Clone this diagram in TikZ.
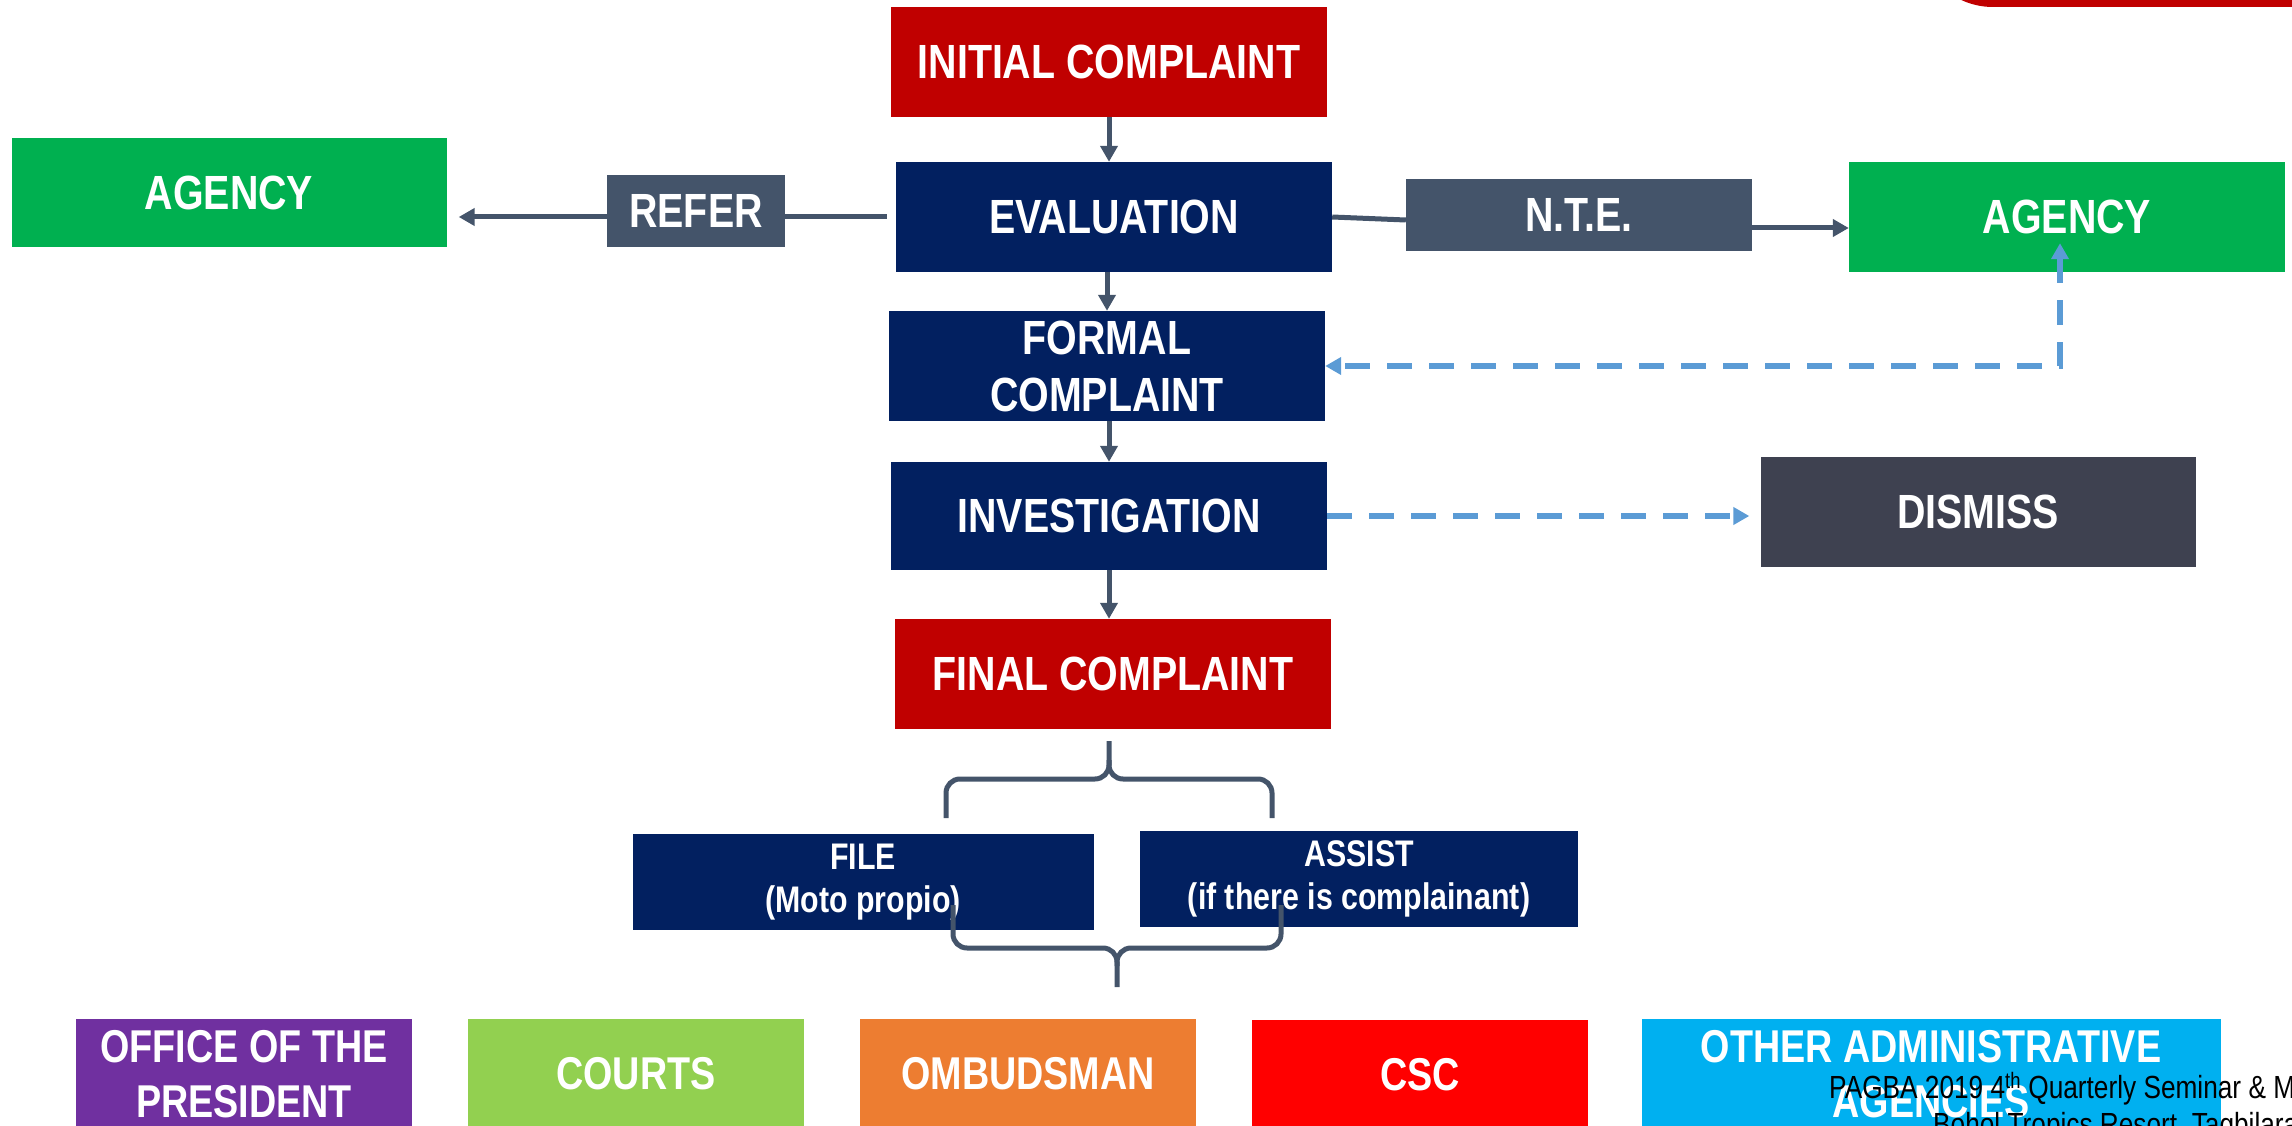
\documentclass[tikz,border=0pt]{standalone}
\usepackage{fontspec}
\setmainfont{Liberation Sans}[FakeStretch=0.82]
\usepackage{tikz}
\usetikzlibrary{arrows.meta}
\definecolor{cred}{HTML}{C00000}
\definecolor{cnavy}{HTML}{022060}
\definecolor{cgreen}{HTML}{00B050}
\definecolor{cslate}{HTML}{44546A}
\definecolor{cdark}{HTML}{3E4150}
\definecolor{cblue}{HTML}{5B9BD5}
\definecolor{cpurple}{HTML}{7030A0}
\definecolor{clime}{HTML}{92D050}
\definecolor{corange}{HTML}{ED7D31}
\definecolor{cscarlet}{HTML}{FF0000}
\definecolor{ccyan}{HTML}{00B0F0}

\begin{document}
\begin{tikzpicture}[x=1pt, y=-1pt,
  >={Triangle[width=17pt, length=16pt]},
  box/.style={inner sep=0pt, text=white, align=center,
    font=\bfseries\fontsize{48}{57}\selectfont,
    minimum width=436pt, minimum height=110pt},
  tag/.style={box, fill=cslate, minimum height=72pt},
  small/.style={box, fill=cnavy, font=\bfseries\fontsize{37}{43}\selectfont,
    minimum height=96pt},
  office/.style={box, font=\bfseries\fontsize{46}{55}\selectfont,
    minimum width=336pt},
  flow/.style={cslate, line width=5pt, ->},
  link/.style={cslate, line width=5pt},
  dflow/.style={cblue, line width=6pt, dash pattern=on 25pt off 17pt},
  brace/.style={cslate, line width=5pt, rounded corners=14pt}]
  \useasboundingbox (0,0) rectangle (2292,1126);
  \clip (0,0) rectangle (2292,1126);

  % corner tab at the top
  \fill [cred, rounded corners=75pt] (1918,-200) rectangle (2400,7);

  % main column
  \node [box, fill=cred] (init) at (1109,62) {INITIAL COMPLAINT};
  \node [box, fill=cnavy] (eval) at (1114,217) {EVALUATION};
  \node [box, fill=cnavy] (formal) at (1107,366) {FORMAL\\COMPLAINT};
  \node [box, fill=cnavy, minimum height=108pt] (invest) at (1109,516) {INVESTIGATION};
  \node [box, fill=cred] (final) at (1113,674) {FINAL COMPLAINT};

  % side branches
  \node [tag, minimum width=178pt] (refer) at (696,211) {REFER};
  \node [box, fill=cgreen, minimum width=435pt, minimum height=109pt] (agencyL) at (229,193) {AGENCY};
  \node [tag, minimum width=346pt] (nte) at (1579,215) {N.T.E.};
  \node [box, fill=cgreen] (agencyR) at (2067,217) {AGENCY};
  \node [box, fill=cdark, minimum width=435pt] (dismiss) at (1978,512) {DISMISS};

  % options after the final complaint
  \node [small, minimum width=461pt] (file) at (863,882) {FILE\\(Moto propio)};
  \node [small, minimum width=438pt] (assist) at (1359,879) {ASSIST\\(if there is complainant)};

  % where it can go
  \node [office, fill=cpurple] (president) at (244,1074) {OFFICE OF THE\\PRESIDENT};
  \node [office, fill=clime] (courts) at (636,1074) {COURTS};
  \node [office, fill=corange] (ombudsman) at (1028,1074) {OMBUDSMAN};
  \node [office, fill=cscarlet] (csc) at (1420,1075) {CSC};
  \node [office, fill=ccyan, minimum width=579pt] (others) at (1931,1074) {OTHER ADMINISTRATIVE\\AGENCIES};

  % arrows
  \draw [flow] (init.south) -- (init.south |- eval.north);
  \draw [flow] (formal.north |- eval.south) -- (formal.north);
  \draw [flow] (invest.north |- formal.south) -- (invest.north);
  \draw [flow] (invest.south) -- (invest.south |- final.north);

  \draw [link, shorten <=9pt] (eval.west) -- (eval.west -| refer.east);
  \draw [flow, shorten >=12pt] (eval.west -| refer.west) -- (eval.west -| agencyL.east);

  \draw [link] (eval.east) -- ([yshift=-5pt]nte.west);
  \draw [flow] ([yshift=-13pt]nte.east) -- ([yshift=-11pt]agencyR.west);

  \draw [dflow, <->] ([xshift=-7pt, yshift=29pt]agencyR.south) |- (formal.east);
  \draw [dflow, ->, shorten >=11pt] (invest.east) -- (invest.east -| dismiss.west);

  % braces
  \draw [brace] (946,818) |- (1109,779) -- (1109,741);
  \draw [brace] (1272,818) |- (1109,779) -- (1109,760);
  \draw [brace] (953,905) |- (1117,948) -- (1117,987);
  \draw [brace] (1281,905) |- (1117,948) -- (1117,966);

  % footer
  \node [anchor=base west, inner sep=0pt, font=\fontsize{32}{38}\selectfont] (venue)
    at (1829,1098) {PAGBA 2019 4\textsuperscript{th} Quarterly Seminar \& Meeting};
  \node [anchor=base west, inner sep=0pt, font=\fontsize{32}{38}\selectfont] (place)
    at (1933,1135) {Bohol Tropics Resort, Tagbilaran City};
\end{tikzpicture}
\end{document}
